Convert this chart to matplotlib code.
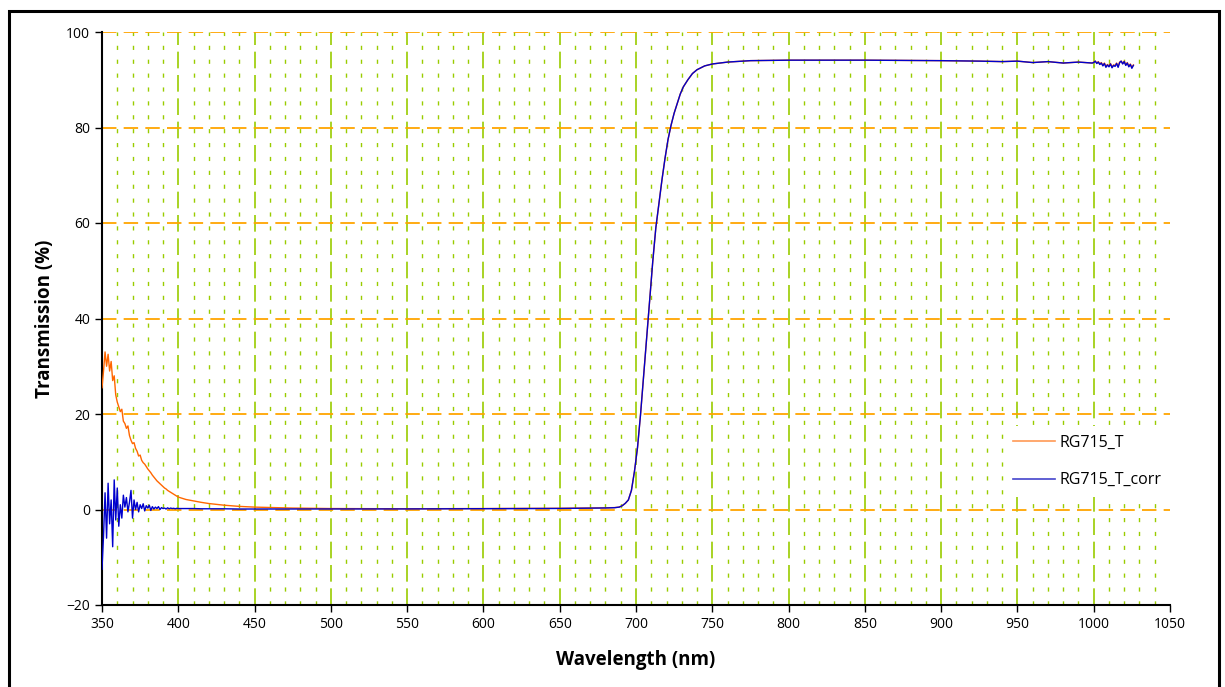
import matplotlib
matplotlib.use("Agg")
import matplotlib.pyplot as plt
from matplotlib.patches import Rectangle
from matplotlib.lines import Line2D

# ---------------- data ----------------
# UV region, 1 nm steps: raw and corrected series differ strongly
wl_uv = list(range(350, 401))
T_uv = [25.5, 29, 33, 30, 32.5, 29, 31, 27, 28, 24,
        22.5, 21.5, 20.5, 21, 18.5, 18, 17, 17.5, 15.5, 14.5,
        13.8, 14, 12.8, 12.2, 11.2, 11.4, 10.3, 9.8, 9.5, 9,
        8.5, 8.1, 7.7, 7.2, 6.8, 6.4, 6.0, 5.7, 5.4, 5.1,
        4.8, 4.5, 4.3, 4.0, 3.8, 3.6, 3.4, 3.2, 3.0, 2.8, 2.6]
Tcorr_uv = [-12.5, -5.5, 3.5, -6, 5.5, -3, 2, -7.8, 6.2, -2.2,
            4.5, -3.5, 1, -1.8, 3, 0.5, 2.5, -0.5, 1.5, 4,
            -1.8, 2, 0, 1.5, -0.5, 1, 0.2, 1.2, -0.3, 0.8,
            0.3, 0.9, -0.2, 0.6, 0.1, 0.5, 0.2, 0.6, 0.0, 0.4,
            0.2, 0.3, 0.1, 0.35, 0.15, 0.3, 0.2, 0.25, 0.15, 0.25, 0.2]

# visible region (raw still slightly above corrected)
wl_vis = [405, 410, 415, 420, 430, 440, 450, 475, 500, 550, 600, 650, 680, 686]
T_vis = [2.1, 1.8, 1.5, 1.25, 0.9, 0.65, 0.5, 0.3, 0.2, 0.15, 0.2, 0.25, 0.35, 0.4]
Tcorr_vis = [0.2, 0.2, 0.15, 0.15, 0.15, 0.1, 0.1, 0.1, 0.1, 0.12, 0.18, 0.22, 0.32, 0.38]

# edge and plateau (both series coincide)
wl_edge = [689, 691, 693, 695, 697, 699, 701, 703, 705, 707, 709, 711, 713, 715,
           717, 719, 721, 723, 725, 727, 729, 731, 734, 737, 740, 745, 750, 760,
           775, 800, 850, 900, 925, 940, 950, 960, 970, 980, 990, 999]
T_edge = [0.5, 0.8, 1.3, 2, 4, 8, 13, 20, 28, 36, 44, 52, 59, 64,
          69, 73.5, 77.5, 80.5, 83, 85, 87, 88.5, 90, 91.3, 92.1, 92.9, 93.3, 93.7,
          94.0, 94.1, 94.1, 94.0, 93.9, 93.8, 93.9, 93.6, 93.8, 93.5, 93.7, 93.5]

# NIR end, 1 nm steps: noisy
wl_ir = list(range(1000, 1027))
T_ir = [93.7, 93.9, 93.5, 93.8, 93.3, 93.6, 93.0, 93.5, 92.8, 93.2,
        92.9, 93.4, 92.7, 93.1, 93.0, 93.5, 92.8, 93.7, 93.9, 93.4,
        93.9, 93.1, 93.6, 92.9, 93.3, 92.6, 93.1]
Tcorr_ir = [93.6, 93.9, 93.4, 93.7, 93.2, 93.5, 92.9, 93.4, 92.6, 93.1,
            92.7, 93.3, 92.5, 93.0, 92.8, 93.4, 92.6, 93.6, 93.9, 93.3,
            93.8, 93.0, 93.5, 92.7, 93.2, 92.4, 93.0]

series_names = ["RG715_T", "RG715_T_corr"]
x_ticks = list(range(350, 1051, 50))
y_ticks = list(range(-20, 101, 20))

# ---------------- figure ----------------
plt.rcParams['font.family'] = ['Open Sans', 'DejaVu Sans']
fig = plt.figure(figsize=(12.25, 6.87), dpi=100)
ax = fig.add_axes([102/1225, 1-605/687, (1170-102)/1225, (605-32)/687])

wl_all = wl_uv + wl_vis + wl_edge + wl_ir
T_all = T_uv + T_vis + T_edge + T_ir
Tc_all = Tcorr_uv + Tcorr_vis + T_edge + Tcorr_ir

orange = '#FF6600'
blue = '#0000CC'
ax.plot(wl_all, T_all, color=orange, lw=1.0, zorder=3)
ax.plot(wl_all, Tc_all, color=blue, lw=1.0, zorder=4)

ax.set_xlim(350, 1050)
ax.set_ylim(-20, 100)
ax.set_xticks(x_ticks)
ax.set_yticks(y_ticks)
ax.set_yticklabels([("\u2212" + str(-v)) if v < 0 else str(v) for v in y_ticks])
ax.set_xticks(list(range(360, 1050, 10)), minor=True)
ax.tick_params(axis='x', which='minor', length=0)
ax.tick_params(axis='both', which='major', direction='out', length=5, width=1,
               labelsize=10, color='black')

# grid
for v in range(360, 1050, 10):
    if v % 50 == 0:
        ax.axvline(v, color='#99CC00', lw=1.2, dashes=(10, 4), zorder=1)
    else:
        ax.axvline(v, color='#99CC00', lw=1.0, dashes=(3, 7), zorder=1)
for v in y_ticks:
    if v in (-20,):
        continue
    ax.axhline(v, color='#FFA500', lw=1.3, dashes=(8, 4), zorder=1)

for s in ['top', 'right']:
    ax.spines[s].set_visible(False)
for s in ['left', 'bottom']:
    ax.spines[s].set_linewidth(1.5)

ax.set_xlabel("Wavelength (nm)", fontsize=13.5, fontweight='bold', labelpad=13)
ax.set_ylabel("Transmission (%)", fontsize=13.5, fontweight='bold', labelpad=8)

handles = [Line2D([], [], color='#FF9955', lw=1.2),
           Line2D([], [], color='#4444CC', lw=1.2)]
leg = ax.legend(handles, series_names, loc='lower left',
                bbox_to_anchor=(0.845, 0.1885, 0.153, 0.121), mode='expand',
                frameon=True, fontsize=11.5, handlelength=2.6, labelspacing=1.35,
                borderaxespad=0, handletextpad=0.3, borderpad=0.55)
leg.get_frame().set_edgecolor('none')
leg.get_frame().set_facecolor('white')
leg.get_frame().set_alpha(1)
leg.set_zorder(5)

# outer border
fig.patches.append(Rectangle((9/1225, -0.05), (1219-9)/1225, 1-11/687+0.05,
                             transform=fig.transFigure, fill=False,
                             edgecolor='black', lw=2.2))

fig.savefig("out.png", dpi=100)
